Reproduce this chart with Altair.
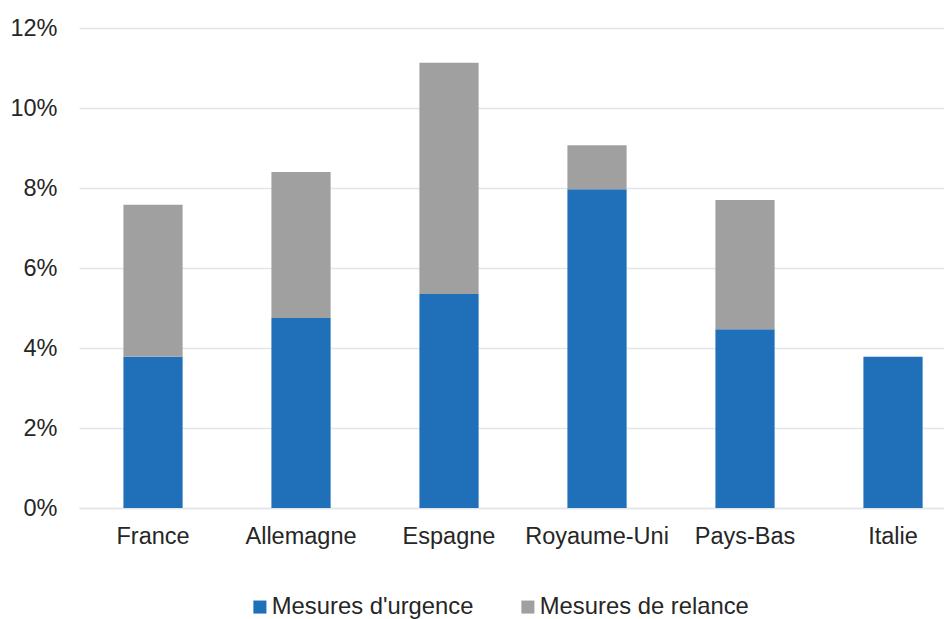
import altair as alt
import pandas as pd

pays = ["France", "Allemagne", "Espagne", "Royaume-Uni", "Pays-Bas", "Italie"]
urgence = [3.78, 4.75, 5.35, 7.97, 4.47, 3.78]
relance = [3.80, 3.65, 5.78, 1.10, 3.23, 0.0]
series = ["Mesures d'urgence", "Mesures de relance"]
colors = ["#1F70B8", "#A0A0A0"]

rows = []
for p, u, r in zip(pays, urgence, relance):
    rows.append({"pays": p, "serie": series[0], "val": u / 100, "ordre": 0})
    rows.append({"pays": p, "serie": series[1], "val": r / 100, "ordre": 1})
df = pd.DataFrame(rows)

font = "Liberation Sans"
fs = 23.5

chart = alt.Chart(df).mark_bar().encode(
    x=alt.X("pays:N", sort=pays,
            scale=alt.Scale(paddingInner=0.6, paddingOuter=0.2223, align=0.675),
            axis=alt.Axis(title=None, labelAngle=0, labelFontSize=fs, labelFont=font,
                          labelColor="#262626", labelPadding=16, ticks=False,
                          domainColor="#E1E5EB", domainWidth=1.5)),
    y=alt.Y("val:Q", stack="zero",
            scale=alt.Scale(domain=[0, 0.12]),
            axis=alt.Axis(title=None, format=".0%", values=[0, 0.02, 0.04, 0.06, 0.08, 0.1, 0.12],
                          labelFontSize=fs, labelFont=font, labelColor="#262626",
                          labelPadding=22, ticks=False, domain=False,
                          gridColor="#E1E5EB", gridWidth=1.5)),
    color=alt.Color("serie:N", sort=series,
                    scale=alt.Scale(domain=series, range=colors),
                    legend=alt.Legend(title=None, orient="none", direction="horizontal",
                                      legendX=169, legendY=567,
                                      symbolType="square", symbolSize=170,
                                      symbolStrokeWidth=0, labelFontSize=23.8,
                                      labelFont=font, labelColor="#262626",
                                      labelLimit=0, labelOffset=0, columnPadding=42)),
    order=alt.Order("ordre:Q", sort="ascending"),
).properties(
    width=865, height=480,
    autosize=alt.AutoSizeParams(type="none"),
    padding={"left": 71, "top": 20, "right": 0, "bottom": 111},
).configure_view(stroke=None)

chart.save("out.html", embed_options={"renderer": "svg", "actions": False})
